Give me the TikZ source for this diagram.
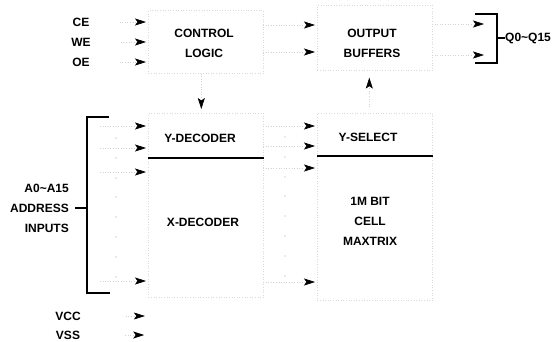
\documentclass[tikz,border=0pt]{standalone}
\usepackage{fontspec}
\setmainfont{Liberation Sans}
\usetikzlibrary{arrows.meta}
\begin{document}
\begin{tikzpicture}[x=1pt,y=-1pt,
  lbl/.style={inner sep=0pt,font=\fontsize{12}{20}\selectfont\bfseries,align=center},
  blk/.style={draw=gray!30,dotted,line width=0.6pt,inner sep=0pt,anchor=north west},
  conn/.style={draw=gray!35,dotted,line width=0.6pt,-{Stealth[length=11pt,width=7pt,inset=2.5pt,color=black,fill=black,line width=0.6pt]}},
  bus/.style={line width=1.3pt,black},
  sepline/.style={line width=2pt,black},
  speck/.style={fill=gray!70,draw=none}]
\useasboundingbox (0,0) rectangle (559,341);
% blocks
\node[blk,minimum width=115pt,minimum height=63pt] (ctrl) at (148,10) {};
\node[blk,minimum width=115pt,minimum height=44pt] (ydec) at (148,113) {};
\node[blk,minimum width=115pt,minimum height=140pt] (xdec) at (148,157) {};
\node[blk,minimum width=115pt,minimum height=65pt] (obuf) at (317,5) {};
\node[blk,minimum width=115pt,minimum height=42pt] (ysel) at (317,113) {};
\node[blk,minimum width=115pt,minimum height=145pt] (cell) at (317,155) {};
% block texts
\node[lbl] (tctrl) at (204,43) {CONTROL\\LOGIC};
\node[lbl] (tydec) at (200,138) {Y-DECODER};
\node[lbl] (txdec) at (203,222) {X-DECODER};
\node[lbl] (tobuf) at (372,43) {OUTPUT\\BUFFERS};
\node[lbl] (tysel) at (368,137) {Y-SELECT};
\node[lbl] (tcell) at (370,221) {1M BIT\\CELL\\MAXTRIX};
% separators
\draw[sepline] (ydec.south west) -- (ydec.south east);
\draw[sepline] (ysel.south west) -- (ysel.south east);
% control inputs
\node[lbl] (ce) at (81,22) {CE};
\node[lbl] (we) at (81,42) {WE};
\node[lbl] (oe) at (81,62) {OE};
\draw[conn] ([xshift=30pt]ce.east) -- ([xshift=-2pt]ctrl.west |- ce.east);
\draw[conn] ([xshift=30pt]we.east) -- ([xshift=-2pt]ctrl.west |- we.east);
\draw[conn] ([xshift=30pt]oe.east) -- ([xshift=-2pt]ctrl.west |- oe.east);
% control to decoder, select to buffers
\draw[conn,shorten >=4pt] ([xshift=-4.5pt]ctrl.south) -- ([xshift=-4.5pt]ydec.north);
\draw[conn,shorten >=7pt,shorten <=6pt] ([xshift=-5.5pt]ysel.north) -- ([xshift=-5.5pt]obuf.south);
% control to output buffers
\coordinate (c1) at (263,25);
\coordinate (c2) at (263,52);
\draw[conn,shorten >=2pt] (c1) -- (obuf.west |- c1);
\draw[conn,shorten >=2pt] (c2) -- (obuf.west |- c2);
% address bus bracket
\node[lbl,anchor=east] (a015) at (69,188) {A0\textasciitilde A15};
\node[lbl,anchor=east] (addr) at (69,208) {ADDRESS};
\node[lbl,anchor=east] (inp) at (69,228) {INPUTS};
\coordinate (bt) at (87,117);
\coordinate (bb) at (87,293);
\draw[bus] (109,117) -- (bt) -- (bb) -- (110,293);
\draw[bus] ([xshift=6pt]addr.east) -- (bt |- addr.east);
\foreach \yy/\nm in {126/a1,148/a2,172/a3} {
  \coordinate (\nm) at (100,\yy);
  \draw[conn] (\nm) -- ([xshift=-2pt]ydec.west |- \nm);
}
\coordinate (a4) at (100,281);
\draw[conn] (a4) -- ([xshift=-2pt]xdec.west |- a4);
\foreach \yy in {138,158,178,197,217,237,257,277} {
  \fill[speck] (116,\yy) circle (0.7pt);
  \fill[speck] (285,\yy-1) circle (0.7pt);
}
% power
\node[lbl] (vcc) at (68,316) {VCC};
\node[lbl] (vss) at (68,335) {VSS};
\draw[conn] ([xshift=45pt]vcc.east) -- ([xshift=64pt]vcc.east);
\draw[conn] ([xshift=45pt]vss.east) -- ([xshift=64pt]vss.east);
% decoder to select/matrix
\foreach \yy/\nm in {126/d1,146/d2,168/d3} {
  \coordinate (\nm) at (263,\yy);
  \draw[conn,shorten >=2pt] (\nm) -- (ysel.west |- \nm);
}
\coordinate (d4) at (263,282);
\draw[conn,shorten >=2pt] (d4) -- (cell.west |- d4);
% outputs
\coordinate (q1) at (432,24);
\coordinate (q2) at (432,55);
\coordinate (qt) at (497,14);
\coordinate (qb) at (497,63);
\draw[conn] (q1) -- (484,24);
\draw[conn] (q2) -- (484,55);
\draw[line width=1.1pt] (475,14) -- (qt) -- (qb) -- (475,63);
\node[lbl,anchor=west] (q015) at (505,38) {Q0\textasciitilde Q15};
\draw[line width=1.1pt] (qt |- q015.west) -- (q015.west);
\end{tikzpicture}
\end{document}
